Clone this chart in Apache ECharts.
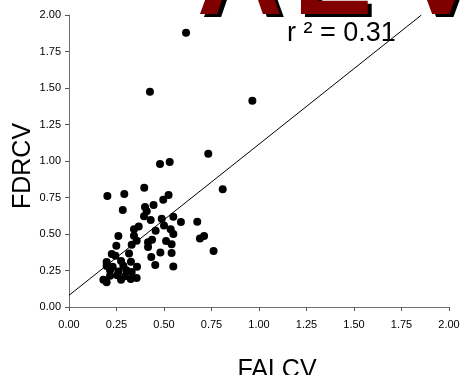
<!DOCTYPE html>
<html>
<head>
<meta charset="utf-8">
<script src="https://cdn.jsdelivr.net/npm/echarts@6/dist/echarts.min.js"></script>
<style>
html,body{margin:0;padding:0;background:#fff;}
#chart{width:471px;height:375px;}
</style>
</head>
<body>
<div id="chart"></div>
<script>
// Data
const falcv = [0.965,0.733,0.479,0.530,0.202,0.291,0.396,0.809,0.283,0.524,0.496,0.445,0.400,0.409,0.395,0.430,0.488,0.549,0.589,0.675,0.500,0.367,0.342,0.535,0.456,0.549,0.342,0.260,0.711,0.689,0.356,0.437,0.511,0.416,0.330,0.540,0.249,0.416,0.761,0.481,0.540,0.225,0.316,0.433,0.244,0.198,0.274,0.326,0.454,0.549,0.358,0.198,0.230,0.286,0.216,0.260,0.302,0.330,0.254,0.295,0.181,0.198,0.274,0.325,0.356,0.216,0.616,0.426];
const fdrcv = [1.413,1.050,0.979,0.993,0.760,0.774,0.817,0.806,0.664,0.767,0.735,0.699,0.685,0.655,0.621,0.596,0.605,0.619,0.582,0.584,0.559,0.552,0.532,0.532,0.523,0.500,0.488,0.486,0.486,0.470,0.454,0.461,0.452,0.443,0.427,0.429,0.420,0.411,0.383,0.374,0.370,0.363,0.367,0.342,0.351,0.308,0.315,0.310,0.288,0.278,0.276,0.281,0.276,0.283,0.251,0.244,0.251,0.240,0.217,0.210,0.187,0.169,0.187,0.192,0.199,0.214,1.879,1.475];
// Regression line end points
const fitX = [0, 1.855];
const fitY = [0.08, 2.0];
const tickValues = [0, 0.25, 0.5, 0.75, 1.0, 1.25, 1.5, 1.75, 2.0];
const xTitle = 'FALCV';
const yTitle = 'FDRCV';
const rText = 'r ² = 0.31';
const bigLetters = ['A', 'E', 'V'];

const chart = echarts.init(document.getElementById('chart'), null, {renderer: 'canvas'});
const font = 'Liberation Sans, Arial, sans-serif';
const points = falcv.map((x, i) => [x, fdrcv[i]]);
const fitLine = fitX.map((x, i) => [x, fitY[i]]);

const letterX = [197, 293, 401];
const bigGraphics = [];
bigLetters.forEach((ch, i) => {
  bigGraphics.push({
    type: 'text', z: 1,
    style: {text: ch, x: letterX[i] + 4, y: -19 + 3, fill: '#000', font: 'bold 119px ' + font, verticalAlign: 'middle', align: 'left'}
  });
  bigGraphics.push({
    type: 'text', z: 2,
    style: {text: ch, x: letterX[i], y: -19, fill: '#800000', font: 'bold 119px ' + font, verticalAlign: 'middle', align: 'left'}
  });
});

const axisCommon = {
  type: 'value', min: 0, max: 2, interval: 0.25,
  axisLine: {show: true, lineStyle: {color: '#707070', width: 1}},
  axisTick: {show: true, length: 4, lineStyle: {color: '#555'}},
  splitLine: {show: false},
  axisLabel: {color: '#000', fontSize: 11, fontFamily: font,
    formatter: v => v.toFixed(2)}
};

chart.setOption({
  animation: false,
  backgroundColor: '#fff',
  grid: {left: 69, right: 22, top: 15, bottom: 68, containLabel: false},
  xAxis: Object.assign({}, axisCommon, {axisLabel: Object.assign({}, axisCommon.axisLabel, {margin: 12})}),
  yAxis: Object.assign({}, axisCommon, {axisLabel: Object.assign({}, axisCommon.axisLabel, {margin: 8})}),
  series: [
    {type: 'scatter', data: points, symbol: 'circle', symbolSize: 8,
      itemStyle: {color: '#000', opacity: 1}, z: 3},
    {type: 'line', data: fitLine, showSymbol: false, symbol: 'none',
      lineStyle: {color: '#000', width: 1}, z: 4, silent: true}
  ],
  graphic: bigGraphics.concat([
    {type: 'text', z: 5, style: {text: rText, x: 287, y: 34, fill: '#000', font: '27px ' + font, verticalAlign: 'middle', align: 'left'}},
    {type: 'text', z: 5, style: {text: xTitle, x: 277, y: 370, fill: '#000', font: '25px ' + font, verticalAlign: 'middle', align: 'center'}},
    {type: 'text', z: 5, rotation: Math.PI / 2, x: 23, y: 166,
      style: {text: yTitle, x: 0, y: 0, fill: '#000', font: '25px ' + font, verticalAlign: 'middle', align: 'center'}}
  ])
});
</script>
</body>
</html>
